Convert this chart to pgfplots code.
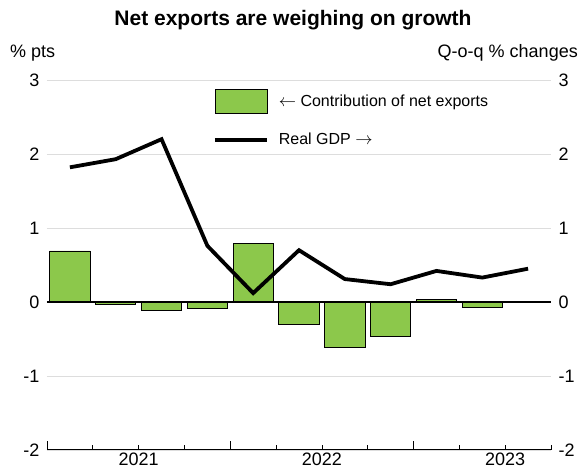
\documentclass[border=0pt]{standalone}
\usepackage{fontspec}
\setmainfont{Liberation Sans}
\usepackage{pgfplots}
\pgfplotsset{compat=1.18}
\definecolor{barGreen}{HTML}{8CC84B}
\definecolor{gridGray}{HTML}{DDDDDD}
\begin{document}
\begin{tikzpicture}[x=1pt,y=1pt]
\path[use as bounding box] (0,0) rectangle (582,471);
\begin{axis}[
  at={(47pt,21pt)}, anchor=south west,
  scale only axis, width=504pt, height=370pt,
  xmin=-0.5, xmax=10.5, ymin=-2, ymax=3,
  axis x line*=bottom, axis y line*=left,
  y axis line style={draw=none},
  x axis line style={line width=1pt},
  ytick={-2,-1,0,1,2,3},
  ytick style={draw=none},
  ymajorgrids, grid style={gridGray, line width=0.9pt},
  /pgf/number format/assume math mode=true,
  yticklabel style={font=\fontsize{18}{20}\selectfont, xshift=-4pt},
  xtick={-0.5,3.5,7.5}, xticklabels={},
  minor xtick={0.5,2.5,4.5,6.5,8.5,10.5},
  xtick align=inside,
  major tick length=9pt, minor tick length=5pt,
  x tick style={black, line width=0.8pt},
  extra x ticks={1.5,5.5,9.5},
  extra x tick labels={2021,2022,2023},
  extra x tick style={major tick length=5pt, tick align=inside, grid=none},
  xticklabel style={font=\fontsize{18}{20}\selectfont, yshift=1pt},
  legend cell align=left,
  legend style={draw=none, fill=none, at={(0.329,0.975)}, anchor=north west,
    inner sep=0pt, row sep=17pt, font=\fontsize{16}{18}\selectfont,
    nodes={inner sep=2pt}},
]
\addplot[ybar, bar width=0.88, fill=barGreen, draw=black, line width=0.8pt,
  legend image code/.code={\draw[fill=barGreen,draw=black,line width=0.8pt] (0pt,-12pt) rectangle (52pt,12pt);}]
  coordinates {(0,0.69) (1,-0.03) (2,-0.12) (3,-0.08) (4,0.79) (5,-0.30)
               (6,-0.62) (7,-0.46) (8,0.03) (9,-0.07) (10,0)};
\addlegendentry{\hspace*{8pt}$\leftarrow$ Contribution of net exports}
\draw[black, line width=2.5pt] (axis cs:-0.5,0) -- (axis cs:10.5,0);
\addplot[black, line width=3.8pt, mark=none,
  legend image code/.code={\draw[line width=3.8pt] (5pt,0pt) -- (47pt,0pt); \path (0pt,0pt) -- (52pt,0pt);}]
  coordinates {(0,1.82) (1,1.93) (2,2.20) (3,0.76) (4,0.12) (5,0.70)
               (6,0.31) (7,0.24) (8,0.42) (9,0.33) (10,0.45)};
\addlegendentry{\hspace*{8pt}Real GDP $\rightarrow$}
\end{axis}
\begin{axis}[
  at={(47pt,21pt)}, anchor=south west,
  scale only axis, width=504pt, height=370pt,
  xmin=-0.5, xmax=10.5, ymin=-2, ymax=3,
  axis x line=none, axis y line*=right,
  y axis line style={draw=none},
  ytick={-2,-1,0,1,2,3}, ytick style={draw=none},
  /pgf/number format/assume math mode=true,
  yticklabel style={font=\fontsize{18}{20}\selectfont, xshift=4pt},
]
\addplot[draw=none] coordinates {(0,0)};
\end{axis}
\node[font=\bfseries\fontsize{21}{24}\selectfont] at (293,451) {Net exports are weighing on growth};
\node[font=\fontsize{18}{20}\selectfont, anchor=west, inner sep=0pt] at (10,418) {\% pts};
\node[font=\fontsize{18}{20}\selectfont, anchor=east, inner sep=0pt] at (578,418) {Q-o-q \% changes};
\end{tikzpicture}
\end{document}
